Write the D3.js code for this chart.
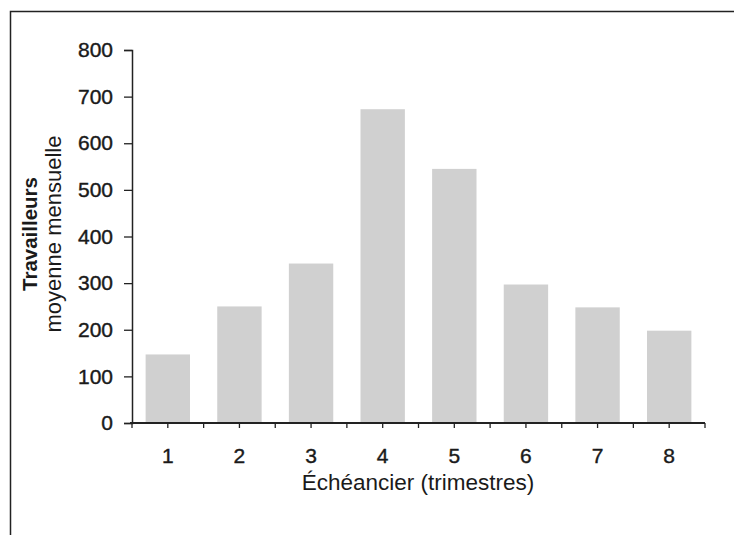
<!DOCTYPE html>
<html>
<head>
<meta charset="utf-8">
<script src="https://cdn.jsdelivr.net/npm/d3@7"></script>
<style>
  body { margin: 0; background: #fff; }
  svg { display: block; }
  text { font-family: "Liberation Sans", Arial, sans-serif; fill: #1a1a1a; }
</style>
</head>
<body>
<svg id="canvas"></svg>
<script>
let quarters = ['1', '2', '3', '4', '5', '6', '7', '8'];
let workers = [147, 250, 342, 673, 545, 297, 248, 198];
let yTicks = [0, 100, 200, 300, 400, 500, 600, 700, 800];

let width = 734;
let height = 535;
let plotLeft = 132;
let plotRight = 705;
let plotTop = 50;
let plotBottom = 423;

let canvas = d3.select('#canvas').attr('width', width).attr('height', height);

// frame around the figure
canvas.append('path')
	.attr('d', `M10.5,${height} V11.5 H${width}`)
	.attr('fill', 'none')
	.attr('stroke', '#222')
	.attr('stroke-width', 1.5);

let xScale = d3.scaleBand().domain(quarters).range([plotLeft, plotRight]).paddingInner(0.38).paddingOuter(0.19);
let xEdges = d3.scaleLinear().domain([0, quarters.length]).range([plotLeft, plotRight]);
let yScale = d3.scaleLinear().domain([0, 800]).range([plotBottom, plotTop]);

// bars
canvas.append('g')
	.selectAll('rect')
	.data(workers)
	.join('rect')
	.attr('x', (d, i) => xScale(quarters[i]))
	.attr('y', d => yScale(d))
	.attr('width', xScale.bandwidth())
	.attr('height', d => yScale(0) - yScale(d))
	.attr('fill', '#d0d0d0');

// Y axis
let yAxis = d3.axisLeft(yScale).tickValues(yTicks).tickSize(8).tickPadding(11).tickFormat(d3.format('d'));
let gy = canvas.append('g').attr('transform', `translate(${plotLeft}, 0)`).call(yAxis);
gy.select('.domain').attr('stroke', '#222').attr('stroke-width', 1.5);
gy.selectAll('.tick line').attr('stroke', '#222').attr('stroke-width', 1.3);
gy.selectAll('text').style('font-size', '21px').attr('stroke', '#1a1a1a').attr('stroke-width', 0.4);

// X axis: ticks at band edges and band centres
let gx = canvas.append('g').attr('transform', `translate(0, ${plotBottom})`);
gx.append('line')
	.attr('x1', plotLeft - 2).attr('x2', plotRight)
	.attr('stroke', '#222').attr('stroke-width', 2);
let tickPos = d3.range(0, quarters.length + 0.5, 0.5);
gx.selectAll('.xt')
	.data(tickPos)
	.join('line')
	.attr('class', 'xt')
	.attr('x1', d => xEdges(d)).attr('x2', d => xEdges(d))
	.attr('y1', 0).attr('y2', 5)
	.attr('stroke', '#222').attr('stroke-width', 1.3);
gx.selectAll('.xl')
	.data(quarters)
	.join('text')
	.attr('class', 'xl')
	.attr('x', d => xScale(d) + xScale.bandwidth() / 2)
	.attr('y', 40)
	.attr('text-anchor', 'middle')
	.style('font-size', '21px')
	.attr('stroke', '#1a1a1a').attr('stroke-width', 0.4)
	.text(d => d);

// axis titles
canvas.append('text')
	.attr('x', 418)
	.attr('y', 490)
	.attr('text-anchor', 'middle')
	.style('font-size', '22.5px')
	.text('Échéancier (trimestres)');

let yTitle = canvas.append('text')
	.attr('transform', `translate(0, 234) rotate(-90)`)
	.attr('text-anchor', 'middle');
yTitle.append('tspan').attr('x', 0).attr('y', 37).style('font-size', '20.5px').style('font-weight', 'bold').text('Travailleurs');
yTitle.append('tspan').attr('x', 0).attr('y', 61).style('font-size', '22px').text('moyenne mensuelle');
</script>
</body>
</html>
